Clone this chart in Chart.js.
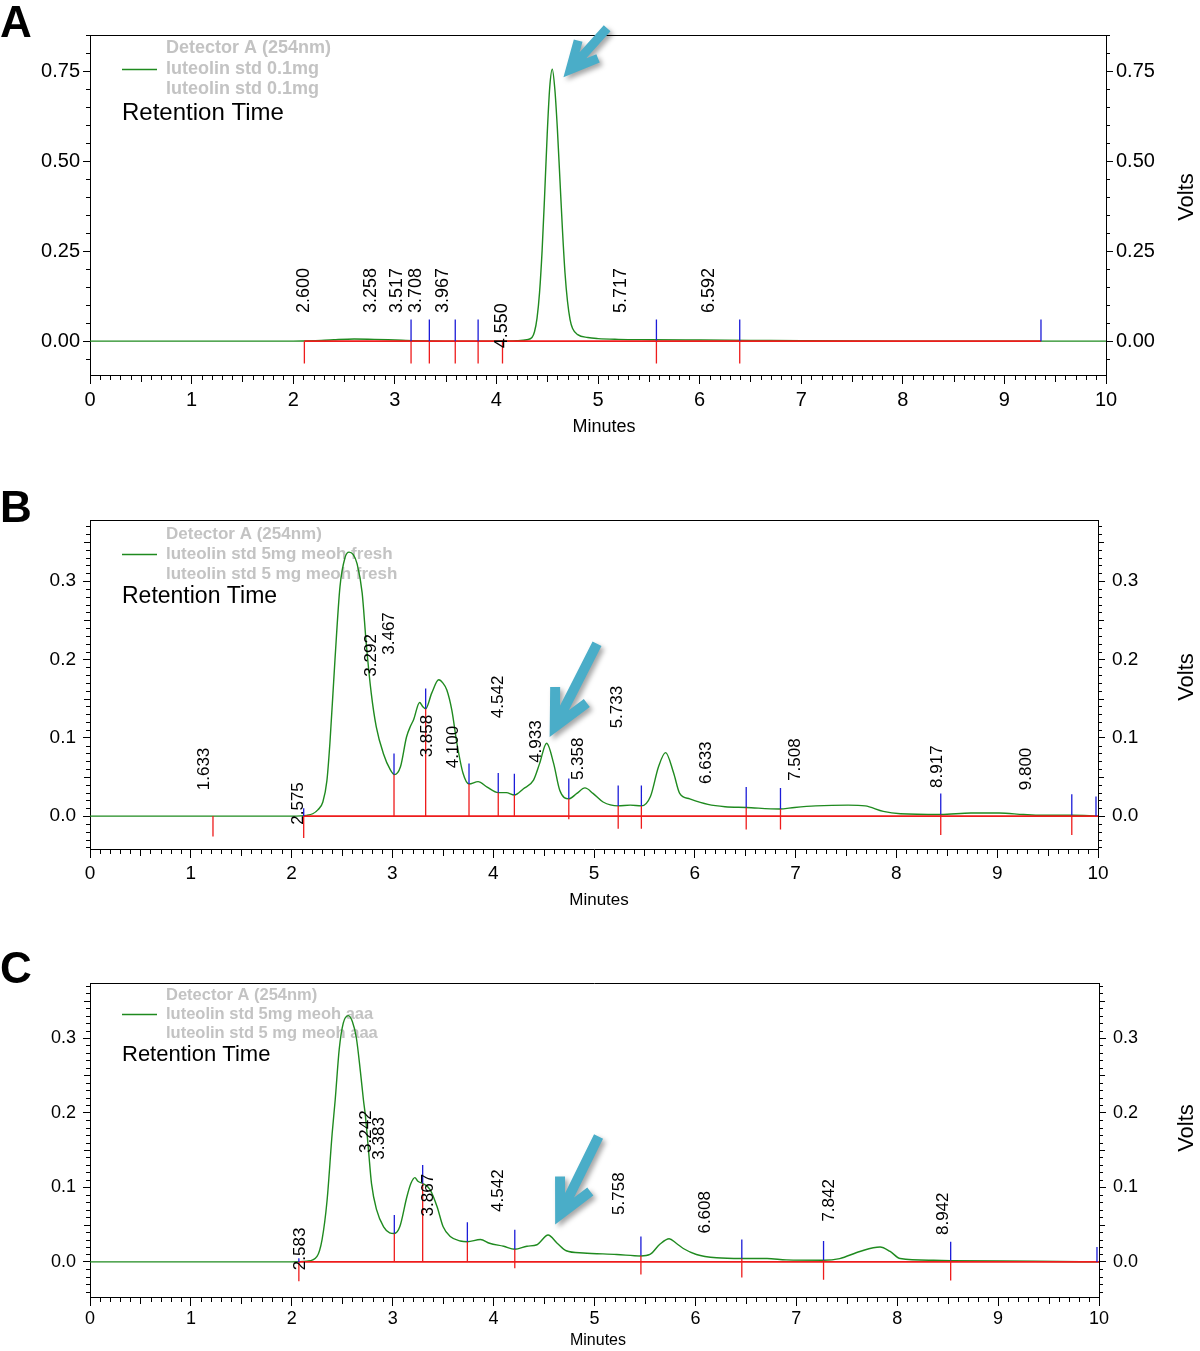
<!DOCTYPE html>
<html>
<head>
<meta charset="utf-8">
<script src="https://cdn.jsdelivr.net/npm/chart.js@4.4.1/dist/chart.umd.min.js"></script>
<style>
  html, body { margin: 0; padding: 0; background: #fff; }
  #wrap { position: relative; width: 1200px; height: 1351px; overflow: hidden; }
  canvas { position: absolute; left: 0; }
</style>
</head>
<body>
<div id="wrap">
  <canvas id="cA" width="1200" height="450" style="top:0px"></canvas>
  <canvas id="cB" width="1200" height="460" style="top:450px"></canvas>
  <canvas id="cC" width="1200" height="441" style="top:910px"></canvas>
</div>
<script>
/* Three HPLC traces (Detector A, 254 nm) — luteolin standards.
   Values: minutes vs volts. */

const xTicks = [0, 1, 2, 3, 4, 5, 6, 7, 8, 9, 10];

// ---- A · luteolin std 0.1mg ----
const aTime  = [0, 1, 2, 2.2, 2.4, 2.6, 2.8, 3.0, 3.2, 3.5, 4.0, 4.2, 4.3, 4.35, 4.375, 4.4, 4.425, 4.45, 4.475, 4.5, 4.525, 4.55,
                4.575, 4.6, 4.625, 4.65, 4.675, 4.7, 4.725, 4.75, 4.8, 4.9, 5.0, 5.2, 5.5, 6.0, 6.5, 7.0, 8.0, 9.0, 10];
const aVolts = [0, 0, 0, 0.001, 0.004, 0.006, 0.005, 0.003, 0.001, 0, 0, 0.001, 0.004, 0.010, 0.026, 0.064, 0.136, 0.252, 0.407, 0.574, 0.705, 0.755,
                0.70, 0.59, 0.45, 0.31, 0.19, 0.11, 0.06, 0.035, 0.018, 0.010, 0.007, 0.005, 0.004, 0.003, 0.002, 0.001, 0, 0, 0];
const aMarkTime  = [2.11, 3.16, 3.34, 3.595, 3.82, 4.06, 5.575, 6.395, 9.36];
const aMarkLevel = [0, 0, 0, 0, 0, 0, 0.002, 0.001, 0];
const aRedLow    = [-0.062, -0.062, -0.062, -0.062, -0.062, -0.062, -0.062, -0.062, null];
const aBlueHigh  = [null, 0.06, 0.06, 0.06, 0.06, null, 0.06, 0.06, 0.06];
const aBaseline  = [2.11, 9.36];
const aPeakText  = ["2.600", "3.258", "3.517", "3.708", "3.967", "4.550", "5.717", "6.592"];
const aPeakTime  = [2.11, 2.765, 3.02, 3.21, 3.47, 4.06, 5.23, 6.09];
const aPeakLevel = [0.078, 0.078, 0.078, 0.078, 0.078, -0.02, 0.078, 0.078];
const aLegend    = ["Detector A (254nm)", "luteolin std 0.1mg", "luteolin std 0.1mg"];
const aYTicks    = [0, 0.25, 0.5, 0.75];
const aArrow     = [5.09, 0.869, 4.66, 0.733];   // tail t, tail V, tip t, tip V

// ---- B · luteolin std 5mg meoh fresh ----
const bTime  = [0, 1.0, 2.0, 2.15, 2.21, 2.26, 2.31, 2.35, 2.38, 2.43, 2.48, 2.53, 2.57, 2.61, 2.65, 2.70, 2.74, 2.79, 2.84, 2.91, 2.98,
                3.02, 3.08, 3.14, 3.18, 3.21, 3.27, 3.30, 3.33, 3.39, 3.46, 3.50, 3.54, 3.59, 3.64, 3.70, 3.76, 3.85, 3.94, 4.05, 4.13,
                4.21, 4.30, 4.40, 4.46, 4.53, 4.60, 4.66, 4.75, 4.83, 4.91, 4.99, 5.09, 5.24, 5.36, 5.47, 5.56, 5.64, 5.71, 5.79, 5.85,
                5.95, 6.13, 6.30, 6.51, 6.84, 6.99, 7.20, 7.52, 7.69, 7.87, 8.04, 8.44, 8.74, 9.02, 9.26, 9.44, 9.74, 10];
const bVolts = [0, 0, 0, 0.001, 0.003, 0.008, 0.018, 0.045, 0.093, 0.199, 0.293, 0.330, 0.337, 0.334, 0.322, 0.285, 0.221, 0.157, 0.114, 0.080, 0.059,
                0.053, 0.063, 0.101, 0.115, 0.123, 0.145, 0.140, 0.137, 0.157, 0.174, 0.170, 0.161, 0.135, 0.093, 0.055, 0.041, 0.044, 0.037, 0.030, 0.030,
                0.027, 0.035, 0.046, 0.067, 0.093, 0.067, 0.033, 0.022, 0.029, 0.036, 0.029, 0.018, 0.013, 0.014, 0.013, 0.025, 0.063, 0.081, 0.055, 0.029,
                0.022, 0.015, 0.012, 0.011, 0.009, 0.011, 0.013, 0.014, 0.013, 0.006, 0.003, 0.002, 0.004, 0.004, 0.002, 0.001, 0.001, 0];
const bMarkTime  = [1.22, 2.12, 3.016, 3.33, 3.76, 4.05, 4.21, 4.75, 5.24, 5.47, 6.51, 6.85, 8.44, 9.74, 9.98];
const bMarkLevel = [0, 0, 0.053, 0.137, 0.041, 0.030, 0.027, 0.022, 0.013, 0.013, 0.011, 0.009, 0.002, 0.001, 0];
const bRedLow    = [-0.026, -0.028, 0, 0, 0, 0, 0, -0.004, -0.016, -0.016, -0.017, -0.017, -0.024, -0.024, null];
const bBlueHigh  = [null, 0.010, 0.080, 0.163, 0.067, 0.055, 0.054, 0.048, 0.039, 0.039, 0.037, 0.036, 0.029, 0.028, 0.025];
const bBaseline  = [2.12, 10];
const bPeakText  = ["1.633", "2.575", "3.292", "3.467", "3.858", "4.100", "4.542", "4.933", "5.358", "5.733", "6.633", "7.508", "8.917", "9.800"];
const bPeakTime  = [1.13, 2.07, 2.79, 2.97, 3.35, 3.60, 4.05, 4.43, 4.84, 5.23, 6.11, 7.00, 8.41, 9.29];
const bPeakLevel = [0.033, -0.011, 0.178, 0.206, 0.075, 0.061, 0.125, 0.068, 0.046, 0.112, 0.041, 0.045, 0.036, 0.033];
const bLegend    = ["Detector A (254nm)", "luteolin std 5mg meoh fresh", "luteolin std 5 mg meoh fresh"];
const bYTicks    = [0, 0.1, 0.2, 0.3];
const bArrow     = [5.03, 0.220, 4.56, 0.101];

// ---- C · luteolin std 5mg meoh aaa ----
const cTime  = [0, 1, 2, 2.15, 2.25, 2.30, 2.35, 2.40, 2.43, 2.47, 2.51, 2.56, 2.60, 2.64, 2.68, 2.71, 2.73, 2.76, 2.79, 2.84, 2.91, 2.97,
                3.016, 3.07, 3.14, 3.18, 3.22, 3.25, 3.30, 3.37, 3.44, 3.50, 3.57, 3.67, 3.74, 3.87, 3.96, 4.10, 4.21, 4.33, 4.43, 4.54,
                4.63, 4.72, 4.89, 5.22, 5.46, 5.55, 5.65, 5.74, 5.81, 5.88, 6.01, 6.21, 6.46, 6.71, 6.90, 7.27, 7.43, 7.63, 7.83, 7.93,
                8.03, 8.36, 8.53, 9.35, 10];
const cVolts = [0, 0, 0, 0.001, 0.0075, 0.030, 0.083, 0.172, 0.217, 0.285, 0.320, 0.330, 0.322, 0.300, 0.255, 0.217, 0.195, 0.150, 0.105, 0.070, 0.047, 0.039,
                0.038, 0.047, 0.087, 0.105, 0.113, 0.108, 0.105, 0.097, 0.074, 0.047, 0.034, 0.028, 0.027, 0.030, 0.025, 0.021, 0.017, 0.021, 0.023, 0.036,
                0.025, 0.015, 0.012, 0.010, 0.008, 0.010, 0.024, 0.031, 0.025, 0.018, 0.010, 0.0055, 0.0045, 0.0045, 0.0027, 0.0022, 0.0045, 0.014, 0.020, 0.014,
                0.0045, 0.0022, 0.0018, 0.0009, 0];
const cMarkTime  = [2.07, 3.016, 3.297, 3.74, 4.21, 5.46, 6.46, 7.27, 8.53, 9.98];
const cMarkLevel = [0, 0.038, 0.105, 0.027, 0.017, 0.0085, 0.0045, 0.0022, 0.0018, 0];
const cRedLow    = [-0.026, 0, 0, 0, -0.0085, -0.017, -0.021, -0.024, -0.025, null];
const cBlueHigh  = [0.005, 0.063, 0.130, 0.053, 0.043, 0.034, 0.030, 0.028, 0.027, 0.02];
const cBaseline  = [2.07, 10];
const cPeakText  = ["2.583", "3.242", "3.383", "3.867", "4.542", "5.758", "6.608", "7.842", "8.942"];
const cPeakTime  = [2.08, 2.74, 2.87, 3.35, 4.05, 5.25, 6.10, 7.33, 8.46];
const cPeakLevel = [-0.011, 0.146, 0.137, 0.061, 0.067, 0.063, 0.038, 0.054, 0.036];
const cLegend    = ["Detector A (254nm)", "luteolin std 5mg meoh aaa", "luteolin std 5 mg meoh aaa"];
const cYTicks    = [0, 0.1, 0.2, 0.3];
const cArrow     = [5.04, 0.168, 4.61, 0.050];

const FONT = "'Liberation Sans', Arial, Helvetica, sans-serif";
const GREEN = "#1f8a1f", RED = "#ee1c1c", BLUE = "#1c1cd8", GREY = "#c3c3c3", CYAN = "#4aadc8";
const ARM_ANGLE = 0.46;

const pts = (xs, ys) => xs.map((x, i) => ({ x, y: ys[i] }));
// vertical stick segments separated by gaps
function sticks(ts, lo, hi) {
  const out = [];
  ts.forEach((t, i) => {
    if (lo[i] == null || hi[i] == null) return;
    out.push({ x: t, y: lo[i] }, { x: t, y: hi[i] }, { x: t, y: null });
  });
  return out;
}

function panel(id, d, p) {
  const H = document.getElementById(id).height;
  const decor = {
    id: "decor" + id,
    beforeDatasetsDraw(chart) {
      const ctx = chart.ctx;
      ctx.save();
      ctx.font = `bold ${p.legFont}px ${FONT}`;
      ctx.fillStyle = GREY; ctx.textBaseline = "middle"; ctx.textAlign = "left";
      d.legend.forEach((s, i) => ctx.fillText(s, 166, p.legY[i]));
      ctx.strokeStyle = GREEN; ctx.lineWidth = 1.3;
      ctx.beginPath(); ctx.moveTo(122, p.legY[1] + 0.5); ctx.lineTo(157, p.legY[1] + 0.5); ctx.stroke();
      ctx.fillStyle = "#000"; ctx.font = `${p.rtFont}px ${FONT}`;
      ctx.fillText("Retention Time", 122, p.rtY);
      ctx.restore();
    },
    afterDatasetsDraw(chart) {
      const ctx = chart.ctx, xs = chart.scales.x, ys = chart.scales.y;
      ctx.save();
      ctx.font = `${p.labFont}px ${FONT}`; ctx.fillStyle = "#000";
      ctx.textAlign = "left"; ctx.textBaseline = "middle";
      d.peakText.forEach((s, i) => {
        ctx.save();
        ctx.translate(xs.getPixelForValue(d.peakTime[i]), ys.getPixelForValue(d.peakLevel[i]));
        ctx.rotate(-Math.PI / 2);
        ctx.fillText(s, 0, 0);
        ctx.restore();
      });
      ctx.restore();
    },
    afterDraw(chart) {
      const ctx = chart.ctx, a = chart.chartArea, xs = chart.scales.x, ys = chart.scales.y;
      ctx.save();
      ctx.strokeStyle = "#000"; ctx.lineWidth = 1;
      ctx.beginPath();
      ctx.moveTo(a.left, a.top + 0.5); ctx.lineTo(a.right, a.top + 0.5);
      for (let k = 1; k < 100; k++) {
        if (k % 10 === 0) continue;
        const px = Math.round(xs.getPixelForValue(k / 10)) + 0.5;
        const len = k % 5 === 0 ? 7 : 5;
        ctx.moveTo(px, a.bottom); ctx.lineTo(px, a.bottom + len);
      }
      const k0 = Math.ceil(p.yMin / p.minor - 1e-6), k1 = Math.floor(p.yMax / p.minor + 1e-6);
      for (let k = k0; k <= k1; k++) {
        const v = k * p.minor;
        if (d.yTicks.some(t => Math.abs(t - v) < 1e-6)) continue;
        const py = Math.round(ys.getPixelForValue(v)) + 0.5;
        const len = p.mid && Math.abs(v / p.mid - Math.round(v / p.mid)) < 1e-6 ? 6 : 4;
        ctx.moveTo(a.left - len, py); ctx.lineTo(a.left, py);
        ctx.moveTo(a.right, py); ctx.lineTo(a.right + len, py);
      }
      ctx.stroke();

      // panel letter, axis titles
      ctx.fillStyle = "#000";
      ctx.font = `bold 44px ${FONT}`; ctx.textAlign = "left"; ctx.textBaseline = "alphabetic";
      ctx.fillText(p.letter, 0, p.letterY);
      ctx.font = `${p.minFont}px ${FONT}`; ctx.textAlign = "center"; ctx.textBaseline = "middle";
      ctx.fillText("Minutes", p.minX, p.minY);
      ctx.save();
      ctx.translate(1187, p.voltY); ctx.rotate(-Math.PI / 2);
      ctx.font = `22px ${FONT}`;
      ctx.fillText("Volts", 0, 0);
      ctx.restore();

      // annotation arrow: the visible point of the chevron lands on the tip value
      const [tt, tv, pt, pv] = d.arrow;
      const x0 = xs.getPixelForValue(tt), y0 = ys.getPixelForValue(tv);
      const tx = xs.getPixelForValue(pt), ty = ys.getPixelForValue(pv);
      const ang = Math.atan2(y0 - ty, x0 - tx);
      const miter = (p.arrowW / 2) / Math.sin(ARM_ANGLE);
      const x1 = tx + miter * Math.cos(ang), y1 = ty + miter * Math.sin(ang);
      ctx.shadowColor = "rgba(0,0,0,0.35)"; ctx.shadowBlur = 5; ctx.shadowOffsetX = 3; ctx.shadowOffsetY = 3;
      ctx.strokeStyle = CYAN; ctx.lineWidth = p.arrowW; ctx.lineCap = "butt"; ctx.lineJoin = "miter"; ctx.miterLimit = 10;
      ctx.beginPath();
      ctx.moveTo(x0, y0); ctx.lineTo(x1, y1);
      ctx.moveTo(x1 + p.arm * Math.cos(ang - ARM_ANGLE), y1 + p.arm * Math.sin(ang - ARM_ANGLE));
      ctx.lineTo(x1, y1);
      ctx.lineTo(x1 + p.arm * Math.cos(ang + ARM_ANGLE), y1 + p.arm * Math.sin(ang + ARM_ANGLE));
      ctx.stroke();
      ctx.restore();
    }
  };

  const grid = { drawOnChartArea: false, tickLength: 7, color: "#000", tickColor: "#000", lineWidth: 1 };
  const border = { display: true, color: "#000", width: 1 };
  const yScale = (pos, w) => ({
    type: "linear", position: pos, min: p.yMin, max: p.yMax,
    afterBuildTicks: s => { s.ticks = d.yTicks.map(v => ({ value: v })); },
    afterFit: s => { s.width = w; },
    grid, border,
    ticks: { color: "#000", font: { family: FONT, size: p.tick }, padding: p.yPad, callback: v => v.toFixed(p.dec) }
  });

  return new Chart(document.getElementById(id), {
    type: "line",
    data: { datasets: [
      { data: sticks(d.markTime, d.markLevel, d.blueHigh), borderColor: BLUE, borderWidth: 1.3, pointRadius: 0, spanGaps: false, order: 0 },
      { data: sticks(d.markTime, d.redLow, d.markLevel), borderColor: RED, borderWidth: 1.3, pointRadius: 0, spanGaps: false, order: 1 },
      { data: pts(d.baseline, [0, 0]), borderColor: RED, borderWidth: 1.8, pointRadius: 0, order: 2 },
      { data: pts(d.time, d.volts), borderColor: GREEN, borderWidth: 1.4, pointRadius: 0, cubicInterpolationMode: "monotone", order: 3 }
    ] },
    options: {
      responsive: false, animation: false, events: [],
      layout: { padding: { top: p.top, left: 0, right: 0, bottom: 0 } },
      plugins: { legend: { display: false }, tooltip: { enabled: false } },
      scales: {
        x: {
          type: "linear", min: 0, max: 10,
          afterBuildTicks: s => { s.ticks = xTicks.map(v => ({ value: v })); },
          afterFit: s => { s.height = H - p.bottom; },
          grid: { ...grid, tickLength: 9 }, border,
          ticks: { color: "#000", font: { family: FONT, size: p.tick }, padding: p.xPad, maxRotation: 0, autoSkip: false, callback: v => String(v) }
        },
        y: yScale("left", 90),
        y2: yScale("right", 1200 - p.right)
      }
    },
    plugins: [decor]
  });
}

panel("cA",
  { time: aTime, volts: aVolts, markTime: aMarkTime, markLevel: aMarkLevel, redLow: aRedLow, blueHigh: aBlueHigh, baseline: aBaseline,
    peakText: aPeakText, peakTime: aPeakTime, peakLevel: aPeakLevel, legend: aLegend, yTicks: aYTicks, arrow: aArrow },
  { top: 35, bottom: 375, right: 1106, yMin: -0.094, yMax: 0.85, dec: 2, minor: 0.05, mid: 0,
    tick: 20, xPad: 4, yPad: 3, labFont: 18, legFont: 18, rtFont: 24, minFont: 18,
    legY: [48, 69, 89], rtY: 113, letter: "A", letterY: 37, minX: 604, minY: 427, voltY: 197, arrowW: 9, arm: 30 });

panel("cB",
  { time: bTime, volts: bVolts, markTime: bMarkTime, markLevel: bMarkLevel, redLow: bRedLow, blueHigh: bBlueHigh, baseline: bBaseline,
    peakText: bPeakText, peakTime: bPeakTime, peakLevel: bPeakLevel, legend: bLegend, yTicks: bYTicks, arrow: bArrow },
  { top: 70, bottom: 399, right: 1098, yMin: -0.042, yMax: 0.378, dec: 1, minor: 0.01, mid: 0.05,
    tick: 19, xPad: 4, yPad: 7, labFont: 17, legFont: 17, rtFont: 23, minFont: 17,
    legY: [84, 104, 124], rtY: 147, letter: "B", letterY: 72, minX: 599, minY: 450, voltY: 227, arrowW: 10, arm: 40 });

panel("cC",
  { time: cTime, volts: cVolts, markTime: cMarkTime, markLevel: cMarkLevel, redLow: cRedLow, blueHigh: cBlueHigh, baseline: cBaseline,
    peakText: cPeakText, peakTime: cPeakTime, peakLevel: cPeakLevel, legend: cLegend, yTicks: cYTicks, arrow: cArrow },
  { top: 73, bottom: 387, right: 1099, yMin: -0.047, yMax: 0.3737, dec: 1, minor: 0.01, mid: 0.05,
    tick: 18, xPad: 2, yPad: 7, labFont: 17, legFont: 16.5, rtFont: 22, minFont: 16,
    legY: [85, 104, 123], rtY: 145, letter: "C", letterY: 73, minX: 598, minY: 431, voltY: 218, arrowW: 10, arm: 38 });
</script>
</body>
</html>
